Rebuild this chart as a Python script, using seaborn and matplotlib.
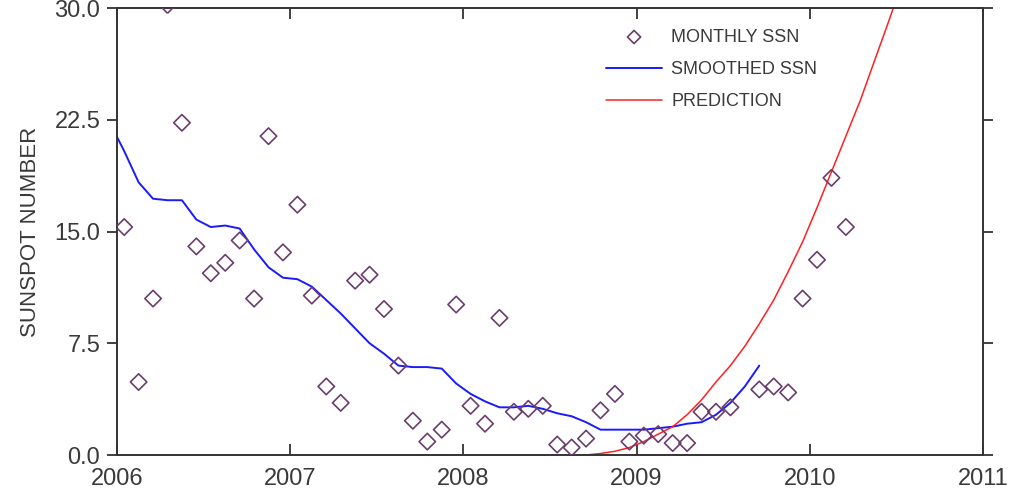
import numpy as np
import pandas as pd
import seaborn as sns
import matplotlib.pyplot as plt

# monthly sunspot numbers, Jan 2006 .. Mar 2010 (Aug 2009 not visible)
monthly_x = [2006 + (m + 0.5) / 12 for m in range(51) if m != 43]
monthly_ssn = [15.3, 4.9, 10.5, 30.2, 22.3, 14.0, 12.2, 12.9, 14.4, 10.5, 21.4, 13.6,
               16.8, 10.7, 4.6, 3.5, 11.7, 12.1, 9.8, 6.0, 2.3, 0.9, 1.7, 10.1,
               3.3, 2.1, 9.2, 2.9, 3.1, 3.3, 0.7, 0.5, 1.1, 3.0, 4.1, 0.9,
               1.3, 1.4, 0.8, 0.8, 2.9, 2.9, 3.2, 4.4, 4.6, 4.2, 10.5,
               13.1, 18.6, 15.3]

# smoothed SSN, Dec 2005 .. Sep 2009
smooth_x = [2006 + (m - 0.5) / 12 for m in range(46)]
smooth_ssn = [22.3, 20.4, 18.3, 17.2, 17.1, 17.1, 15.8, 15.3, 15.4, 15.2, 13.8, 12.6,
              11.9, 11.8, 11.3, 10.4, 9.5, 8.5, 7.5, 6.8, 6.0, 5.9, 5.9, 5.8,
              4.8, 4.1, 3.6, 3.2, 3.2, 3.3, 3.1, 2.8, 2.6, 2.2, 1.7, 1.7,
              1.7, 1.7, 1.8, 1.9, 2.1, 2.2, 2.7, 3.5, 4.6, 6.0]

# prediction, Sep 2008 .. Jul 2010
pred_x = [2008 + (m + 0.5) / 12 for m in range(8, 31)]
pred_ssn = [0.0, 0.1, 0.25, 0.5, 0.9, 1.4, 1.9, 2.7, 3.7, 4.9, 6.0, 7.3,
            8.8, 10.4, 12.3, 14.3, 16.6, 19.0, 21.4, 23.8, 26.5, 29.2, 32.0]

sns.set_style("ticks")
plt.rcParams['font.family'] = ['Liberation Sans', 'DejaVu Sans']
text_col = '#3a3a3a'

fig = plt.figure(figsize=(10.11, 4.92), dpi=100)
ax = fig.add_axes([0.1157, 0.0752, 0.8566, 0.9085])

sns.scatterplot(x=monthly_x, y=monthly_ssn, ax=ax, marker='D', s=70,
                facecolor='none', edgecolor='#6a3d6e', linewidth=1.2,
                label='MONTHLY SSN', zorder=3)
sns.lineplot(x=smooth_x, y=smooth_ssn, ax=ax, color='#1a1aff', linewidth=1.4,
             label='SMOOTHED SSN', zorder=2)
sns.lineplot(x=pred_x, y=pred_ssn, ax=ax, color='#ff2020', linewidth=1.1,
             label='PREDICTION', zorder=2)

ax.set_xlim(2006, 2011)
ax.set_ylim(0, 30)
ax.set_xticks([2006, 2007, 2008, 2009, 2010, 2011])
ax.set_xticklabels(['2006', '2007', '2008', '2009', '2010', '2011'])
ax.set_yticks([0, 7.5, 15, 22.5, 30])
ax.set_yticklabels(['0.0', '7.5', '15.0', '22.5', '30.0'])
ax.set_ylabel('SUNSPOT NUMBER', fontsize=16, color=text_col, labelpad=10)

ax.tick_params(axis='x', direction='in', top=True, length=8, width=1.3,
               labelsize=17, labelcolor=text_col, color='#333333', pad=9)
ax.tick_params(axis='y', direction='out', right=True, length=7, width=1.3,
               labelsize=17, labelcolor=text_col, color='#333333', pad=5)
for sp in ax.spines.values():
    sp.set_visible(True)
    sp.set_color('#333333')
    sp.set_linewidth(1.4)

leg = ax.legend(loc='upper left', bbox_to_anchor=(0.546, 0.99), frameon=False,
                fontsize=13, labelspacing=0.85, handlelength=3.1, handletextpad=0.5,
                markerscale=0.8)
for t in leg.get_texts():
    t.set_color(text_col)

fig.savefig('out.png', dpi=100)
